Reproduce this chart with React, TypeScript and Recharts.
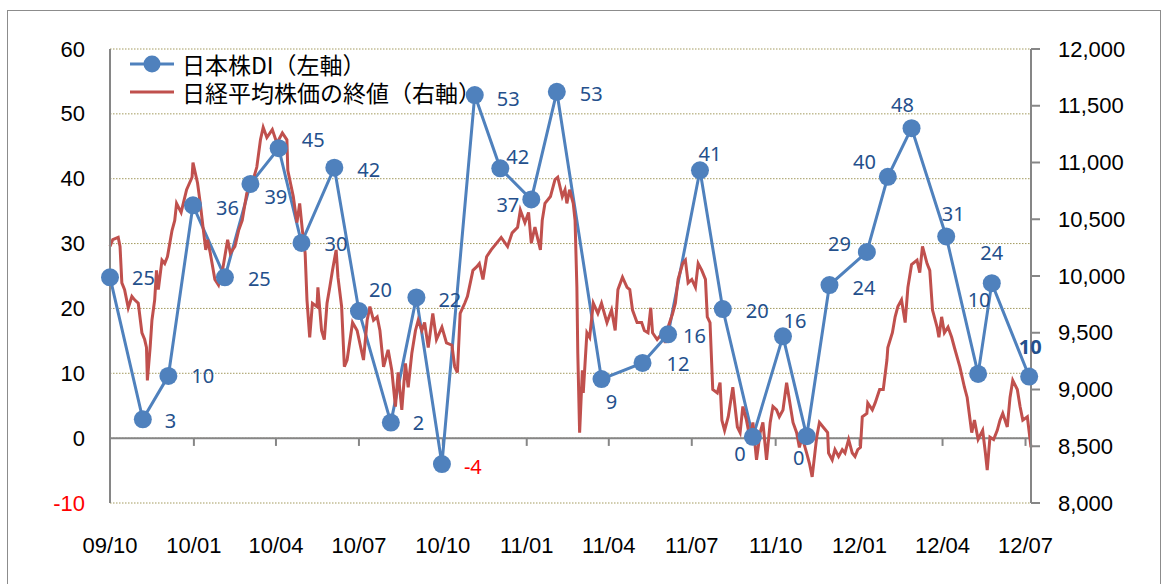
import React from 'react';
import { ComposedChart, Line, XAxis, YAxis, CartesianGrid, ReferenceLine } from 'recharts';

// 日本株DI: survey dates and values (left axis)
const DI_DATES = [
  '2009-10-01', '2009-11-06', '2009-12-04', '2009-12-31', '2010-02-04', '2010-03-04',
  '2010-04-04', '2010-04-29', '2010-06-04', '2010-07-01', '2010-08-05', '2010-09-02',
  '2010-09-30', '2010-11-05', '2010-12-03', '2011-01-06', '2011-02-03', '2011-03-24',
  '2011-05-08', '2011-06-05', '2011-07-10', '2011-08-04', '2011-09-06', '2011-10-09',
  '2011-11-04', '2011-11-29', '2012-01-09', '2012-02-01', '2012-02-27', '2012-04-05',
  '2012-05-10', '2012-05-25', '2012-07-05',
];
const DI_VALUES = [
  24.8, 2.9, 9.6, 35.9, 24.8, 39.2, 44.7, 30.1, 41.7, 19.6, 2.4, 21.7,
  -4.0, 52.9, 41.6, 36.8, 53.4, 9.1, 11.6, 16.0, 41.3, 19.9, 0.2, 15.7,
  0.3, 23.6, 28.7, 40.3, 47.8, 31.1, 9.9, 23.9, 9.5,
];

// 日経平均株価の終値: [days since 2009-10-01, close] (right axis)
const NIKKEI: [number, number][] = [
  [0, 10260], [3, 10320], [9, 10340], [11, 10260], [13, 9940], [16, 9880], [20, 9720], [24, 9820],
  [27, 9790], [31, 9760], [35, 9500], [38, 9440], [40, 9370], [41, 9080], [44, 9370], [46, 9610],
  [49, 9790], [51, 10050], [53, 9880], [57, 10140], [60, 10110], [63, 10170], [68, 10400], [71, 10490],
  [73, 10640], [78, 10560], [84, 10760], [90, 10870], [91, 11000], [96, 10820], [99, 10640], [102, 10430],
  [105, 10230], [107, 10320], [110, 10200], [115, 9970], [119, 9920], [124, 10080], [129, 10320], [132, 10200],
  [137, 10260], [141, 10400], [145, 10490], [150, 10730], [156, 10820], [161, 10960], [165, 11200], [168, 11310],
  [172, 11220], [178, 11290], [183, 11170], [189, 11260], [194, 11200], [195, 10930], [201, 10700], [205, 10470],
  [208, 10640], [211, 10400], [214, 10200], [216, 9790], [219, 9460], [222, 9760], [227, 9730], [228, 9900],
  [232, 9520], [235, 9440], [238, 9760], [241, 9900], [244, 10050], [248, 10230], [250, 9990], [254, 9730],
  [257, 9200], [260, 9260], [266, 9590], [271, 9520], [275, 9370], [278, 9260], [282, 9610], [285, 9730],
  [289, 9610], [293, 9640], [296, 9520], [300, 9200], [305, 9350], [309, 9170], [313, 8850], [316, 9150],
  [320, 8820], [324, 9230], [327, 9020], [331, 9320], [335, 9520], [338, 9610], [342, 9520], [345, 9590],
  [349, 9370], [354, 9670], [358, 9440], [364, 9550], [369, 9410], [375, 9390], [378, 9200], [381, 9150],
  [384, 9670], [389, 9760], [392, 9820], [398, 10050], [402, 10080], [405, 10110], [409, 9970], [413, 10170],
  [418, 10230], [424, 10290], [429, 10340], [436, 10260], [441, 10380], [447, 10430], [450, 10580], [455, 10470],
  [459, 10560], [462, 10290], [466, 10430], [472, 10230], [474, 10490], [477, 10640], [483, 10700], [488, 10850],
  [491, 10870], [496, 10700], [499, 10760], [501, 10640], [504, 10760], [508, 10640], [510, 10490], [512, 9900],
  [513, 9320], [515, 8620], [518, 9170], [519, 8970], [523, 9500], [526, 9460], [530, 9760], [535, 9670],
  [539, 9760], [545, 9590], [550, 9700], [554, 9520], [557, 9880], [562, 9990], [567, 9900], [570, 9880],
  [573, 9700], [578, 9590], [583, 9590], [586, 9520], [590, 9500], [593, 9720], [595, 9500], [600, 9440],
  [606, 9500], [609, 9410], [612, 9550], [617, 9670], [620, 9760], [623, 9970], [628, 10110], [631, 10140],
  [634, 9940], [638, 9970], [642, 9900], [645, 10110], [649, 10050], [653, 9970], [655, 9640], [658, 9590],
  [661, 9000], [666, 8970], [669, 9060], [671, 8730], [674, 8640], [678, 8760], [683, 9020], [688, 8670],
  [691, 8620], [694, 8850], [698, 8730], [702, 8560], [705, 8710], [709, 8380], [713, 8620], [716, 8710],
  [720, 8380], [724, 8710], [727, 8850], [731, 8820], [734, 8760], [738, 8820], [742, 9060], [745, 8910],
  [749, 8710], [753, 8620], [756, 8490], [759, 8580], [764, 8440], [767, 8350], [770, 8230], [775, 8580],
  [778, 8710], [782, 8670], [787, 8620], [788, 8440], [792, 8380], [795, 8470], [799, 8410], [803, 8470],
  [806, 8440], [810, 8560], [814, 8440], [817, 8410], [820, 8470], [823, 8490], [825, 8760], [830, 8790],
  [831, 8880], [836, 8820], [839, 8880], [844, 9000], [848, 9000], [852, 9260], [853, 9370], [858, 9500],
  [861, 9640], [864, 9730], [868, 9790], [872, 9590], [875, 9900], [879, 10100], [885, 10140], [888, 10030],
  [891, 10260], [896, 10110], [899, 10050], [902, 9700], [907, 9550], [909, 9460], [912, 9640], [915, 9500],
  [919, 9550], [923, 9460], [926, 9370], [932, 9200], [937, 9020], [940, 8930], [945, 8620], [948, 8730],
  [952, 8560], [957, 8640], [960, 8440], [962, 8290], [965, 8580], [969, 8560], [973, 8640], [976, 8730],
  [979, 8790], [984, 8670], [987, 8930], [990, 9080], [995, 9000], [998, 8850], [1001, 8730], [1006, 8760],
  [1010, 8490],
];

const TICK_DATES = [
  '2009-10-01', '2010-01-01', '2010-04-01', '2010-07-01', '2010-10-01', '2011-01-01',
  '2011-04-01', '2011-07-01', '2011-10-01', '2012-01-01', '2012-04-01', '2012-07-01',
];
const TICK_LABELS = ['09/10', '10/01', '10/04', '10/07', '10/10', '11/01', '11/04', '11/07', '11/10', '12/01', '12/04', '12/07'];
const AXIS_END = '2012-07-07';

const LEFT_TICKS = [-10, 0, 10, 20, 30, 40, 50, 60];
const RIGHT_TICKS = [8000, 8500, 9000, 9500, 10000, 10500, 11000, 11500, 12000];

// label placement per DI point: [anchor, dx, dy]
const LABEL_POS: [string, number, number][] = [
  ['start', 22, 0], ['start', 22, 1], ['start', 23, 0], ['start', 23, 2], ['start', 23, 1], ['start', 14, 13],
  ['start', 23, -9], ['start', 23, 1], ['start', 23, 2], ['start', 10, -22], ['start', 22, 0], ['start', 22, 2],
  ['start', 22, 2], ['start', 22, 3], ['start', 6, -12], ['end', -12, 5], ['start', 23, 2], ['middle', 10, 22],
  ['start', 24, 1], ['start', 15, 1], ['middle', 10, -17], ['start', 23, 1], ['middle', -13, 17], ['middle', 12, -16],
  ['middle', -8, 21], ['start', 23, 2], ['end', -16, -9], ['end', -12, -15], ['middle', -9, -24], ['middle', 7, -23],
  ['middle', 1, -74], ['middle', 0, -31], ['middle', 1, -30],
];

const BASE = Date.parse('2009-10-01');
const toDay = (s: string) => Math.round((Date.parse(s) - BASE) / 86400000);

const BLUE = '#4f81bd';
const RED = '#c0504d';
const AXIS_GRAY = '#868686';
const AXIS_FONT = '"Liberation Sans", Arial, sans-serif';

const diData = DI_DATES.map((s, i) => ({ d: toDay(s), di: DI_VALUES[i] }));
const nikkeiData = NIKKEI.map(([d, v]) => ({ d, nk: v }));
const xTicks = TICK_DATES.map(toDay);

const XTick = ({ x, y, payload }: any) => {
  const idx = xTicks.indexOf(payload.value);
  return (
    <text x={x} y={y + 42} textAnchor="middle" dominantBaseline="central" fontSize={22} fontFamily={AXIS_FONT} fill="#000">
      {TICK_LABELS[idx]}
    </text>
  );
};

const LeftTick = ({ x, y, payload }: any) => (
  <text x={x} y={y} textAnchor="end" dominantBaseline="central" fontSize={22} fontFamily={AXIS_FONT}
    fill={payload.value < 0 ? '#ff0000' : '#000'}>
    {payload.value}
  </text>
);

const RightTick = ({ x, y, payload }: any) => (
  <text x={x} y={y} textAnchor="start" dominantBaseline="central" fontSize={22} fontFamily={AXIS_FONT} fill="#000">
    {payload.value.toLocaleString('en-US')}
  </text>
);

const DiLabel = (props: any) => {
  const { cx, cy, index, value } = props;
  const [anchor, dx, dy] = LABEL_POS[index];
  const last = index === DI_VALUES.length - 1;
  return (
    <text key={`lbl-${index}`} x={cx + dx} y={cy + dy} textAnchor={anchor} dominantBaseline="central"
      fontSize={20} fontFamily='"Noto Sans", "Open Sans", sans-serif' fontWeight={last ? 'bold' : 'normal'}
      fill={value < 0 ? '#ff0000' : '#24508c'}>
      {Math.round(value)}
    </text>
  );
};

const legendText: React.CSSProperties = { display: 'inline-block', height: 28, lineHeight: '28px' };

export default function App() {
  return (
    <div style={{ position: 'absolute', left: 0, top: 0, width: 1168, height: 584, overflow: 'hidden', background: '#fff' }}>
      <div style={{ position: 'absolute', left: 7, top: 10, width: 1154, height: 640, border: '1px solid #8c8c8c', boxSizing: 'border-box' }} />
      <div style={{ position: 'absolute', left: 0, top: 0 }}>
        <ComposedChart width={1168} height={584} margin={{ top: 49, right: 0, bottom: 31, left: 0 }}>
          <CartesianGrid yAxisId="left" horizontal vertical={false} stroke="#a39a5e" strokeDasharray="1.5 1.5" />
          <XAxis type="number" dataKey="d" domain={[0, toDay(AXIS_END)]} ticks={xTicks} interval={0}
            axisLine={false} tickLine={false} tickSize={0} tickMargin={0} height={50} tick={<XTick />} />
          <YAxis yAxisId="left" domain={[-10, 60]} ticks={LEFT_TICKS} interval={0} width={110}
            axisLine={{ stroke: AXIS_GRAY, strokeWidth: 2 }} tickLine={false} tickSize={0} tickMargin={25} tick={<LeftTick />} />
          <YAxis yAxisId="right" orientation="right" domain={[8000, 12000]} ticks={RIGHT_TICKS} interval={0} width={137}
            axisLine={{ stroke: AXIS_GRAY, strokeWidth: 2 }} tickLine={{ stroke: AXIS_GRAY, strokeWidth: 2 }}
            tickSize={9} tickMargin={18} tick={<RightTick />} />
          <ReferenceLine yAxisId="left" y={0} stroke={AXIS_GRAY} strokeWidth={2} />
          {xTicks.slice(1).map((t) => (
            <ReferenceLine key={`tk-${t}`} yAxisId="left" segment={[{ x: t, y: 0 }, { x: t, y: -1.2 }]}
              stroke={AXIS_GRAY} strokeWidth={2} />
          ))}
          <Line yAxisId="left" data={diData} dataKey="di" stroke={BLUE} strokeWidth={3}
            dot={{ r: 9, fill: BLUE, stroke: BLUE, strokeWidth: 0 }} activeDot={false} isAnimationActive={false} />
          <Line yAxisId="right" data={nikkeiData} dataKey="nk" stroke={RED} strokeWidth={3}
            dot={false} activeDot={false} isAnimationActive={false} />
          <Line yAxisId="left" data={diData} dataKey="di" stroke="none" dot={DiLabel}
            activeDot={false} isAnimationActive={false} legendType="none" />
        </ComposedChart>
      </div>
      <div style={{ position: 'absolute', left: 130, top: 50, fontFamily: '"Noto Sans CJK JP", sans-serif', fontSize: 23, color: '#000' }}>
        <div style={{ display: 'flex', alignItems: 'center', height: 28 }}>
          <svg width={44} height={20} style={{ marginRight: 8 }}>
            <line x1={0} y1={10} x2={44} y2={10} stroke={BLUE} strokeWidth={3} />
            <circle cx={22} cy={10} r={8.5} fill={BLUE} />
          </svg>
          <span style={legendText}>日本株DI（左軸）</span>
        </div>
        <div style={{ display: 'flex', alignItems: 'center', height: 28 }}>
          <svg width={44} height={20} style={{ marginRight: 8 }}>
            <line x1={0} y1={10} x2={44} y2={10} stroke={RED} strokeWidth={3} />
          </svg>
          <span style={legendText}>日経平均株価の終値（右軸）</span>
        </div>
      </div>
    </div>
  );
}
